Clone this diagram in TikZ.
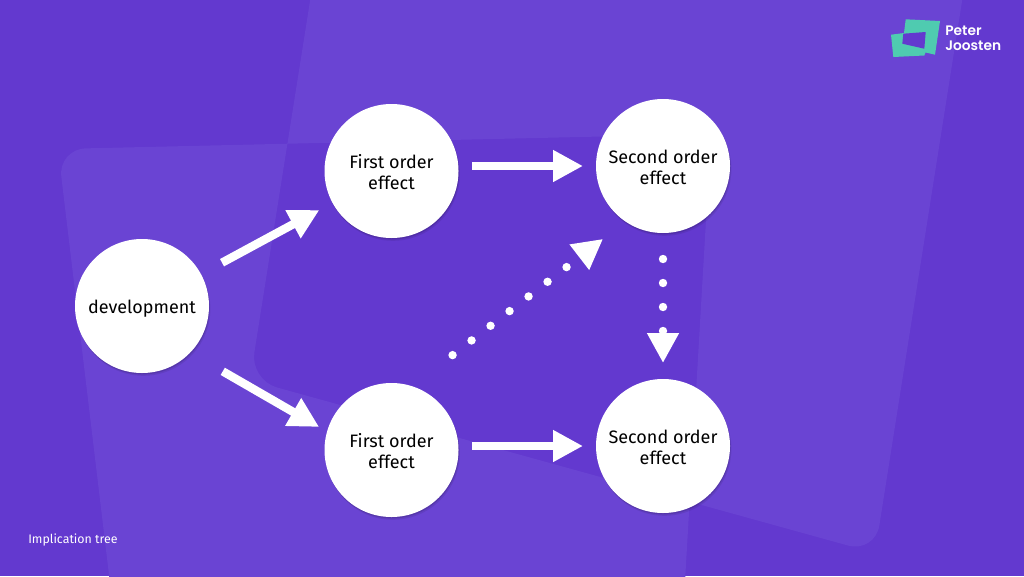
\documentclass[tikz,border=0pt]{standalone}
\usepackage{fontspec}
\setmainfont{Fira Sans}
\newfontfamily\logofont{Poppins SemiBold}
\usetikzlibrary{arrows.meta,shadows}
\definecolor{baseViolet}{HTML}{6339CF}
\definecolor{lightViolet}{HTML}{6A44D3}
\definecolor{logoTeal}{HTML}{4FCBB0}

\begin{document}
\begin{tikzpicture}
    [x=0.25mm,y=-0.25mm,
    EffectNode/.style={circle,fill=white,text=black,minimum size=33.5mm,inner sep=0pt,outer sep=0pt,
        align=center,font=\fontsize{12.8}{15.2}\selectfont,
        drop shadow={shadow xshift=0.35mm,shadow yshift=-0.7mm,opacity=.08,fill=black},
        drop shadow={shadow xshift=0.15mm,shadow yshift=-0.35mm,opacity=.12,fill=black}},
    SolidArrow/.style={-{Triangle[length=7.5mm,width=7.5mm]},line width=2.1mm,white},
    DotArrow/.style={-{Triangle[length=7.5mm,width=7.5mm]},line width=2.1mm,white,line cap=round,
        dash pattern=on 0pt off 6mm}]

    % background
    \clip (0,0) rectangle (1024,576);
    \fill[baseViolet] (0,0) rectangle (1024,576);
    \fill[lightViolet,even odd rule,rounded corners=7mm]
        (326,-100) -- (978,-100) -- (875,553) -- (250,380) -- cycle
        (58,149) -- (711,134) -- (681,650) -- (118,650) -- cycle;

    % logo
    \fill[logoTeal] (905.7,19.3) -- (940,21) -- (935,54.7) -- (925.5,52.5) -- (924.3,55.5) -- (893.3,57) -- (891,34.7) -- (904,33) -- cycle;
    \fill[baseViolet] (903.3,33.7) -- (925.7,32) -- (924.3,48.7) -- (902.3,43.7) -- cycle;
    \node[text=white,align=left,font=\logofont\fontsize{9.8}{10.5}\selectfont,anchor=west,inner sep=0pt] (logo) at (945,38) {Peter\\Joosten};

    % effect nodes
    \node[EffectNode,execute at begin node={\rule{0pt}{14pt}}] (dev) at (142,306) {development};
    \node[EffectNode] (f_1) at (391.5,171) {\rule{0pt}{11.5pt}First order\\effect};
    \node[EffectNode] (f_2) at (391.5,450) {\rule{0pt}{11.5pt}First order\\effect};
    \node[EffectNode] (s_1) at (663,166) {\rule{0pt}{11.5pt}Second order\\effect};
    \node[EffectNode] (s_2) at (663,446) {\rule{0pt}{11.5pt}Second order\\effect};

    % solid arrows
    \draw[SolidArrow,shorten <=6mm,shorten >=3.75mm] (dev) -- (f_1);
    \draw[SolidArrow,shorten <=9.4mm,shorten >=2.3mm] (dev.-44.5) -- (f_2.164.3);
    \draw[SolidArrow,shorten <=3.4mm,shorten >=3.25mm] (f_1.east |- s_1) -- (s_1.west);
    \draw[SolidArrow,shorten <=3.4mm,shorten >=3.25mm] (f_2.east |- s_2) -- (s_2.west);

    % dotted arrows
    \draw[DotArrow,shorten <=12.75mm,shorten >=7.1mm] (f_2.72.2) -- (s_1.-124);
    \draw[DotArrow,shorten <=6.5mm,shorten >=4mm] (s_1.south) -- (s_2.north);

    % caption
    \node[text=white,anchor=west,inner sep=0pt,font=\fontsize{8.8}{10}\selectfont] (caption) at (28,540) {Implication tree};
\end{tikzpicture}
\end{document}
